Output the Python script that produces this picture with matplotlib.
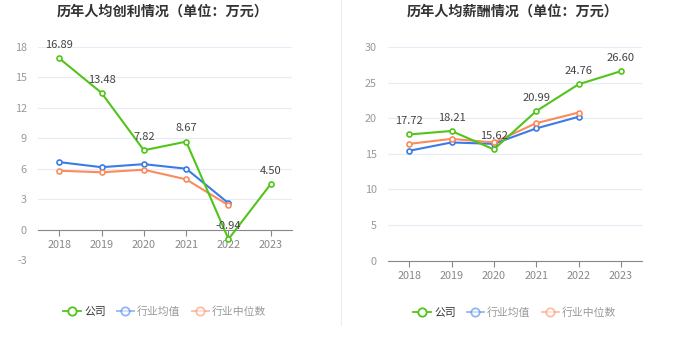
import matplotlib.pyplot as plt
from matplotlib.lines import Line2D

plt.rcParams['font.family'] = ['Noto Sans CJK SC', 'DejaVu Sans']
plt.rcParams['axes.unicode_minus'] = False

years = ['2018', '2019', '2020', '2021', '2022', '2023']

# 人均创利（万元）
profit_company = [16.89, 13.48, 7.82, 8.67, -0.94, 4.50]
profit_avg = [6.65, 6.15, 6.45, 6.0, 2.6]
profit_median = [5.8, 5.65, 5.9, 4.95, 2.4]

# 人均薪酬（万元）
salary_company = [17.72, 18.21, 15.62, 20.99, 24.76, 26.60]
salary_avg = [15.43, 16.6, 16.4, 18.57, 20.2]
salary_median = [16.4, 17.1, 16.6, 19.3, 20.8]

c_green = '#52c41a'
c_blue = '#3b7be8'
c_orange = '#fb8a5c'

fig = plt.figure(figsize=(6.8, 3.49), dpi=100)


def draw_panel(ax, title, company, avg, median, ylim, yticks):
    x = list(range(len(years)))
    ax.plot(x[:len(avg)], avg, color=c_blue, lw=1.5, marker='o', ms=3.6,
            mfc='white', mew=1.2, zorder=3)
    ax.plot(x[:len(median)], median, color=c_orange, lw=1.5, marker='o', ms=3.6,
            mfc='white', mew=1.2, zorder=3)
    ax.plot(x, company, color=c_green, lw=1.5, marker='o', ms=3.6,
            mfc='white', mew=1.2, zorder=4)
    for xi, v in zip(x, company):
        ax.annotate(f'{v:.2f}', (xi, v), xytext=(0, 6), textcoords='offset points',
                    ha='center', va='bottom', fontsize=8, color='#444444', zorder=5)
    ax.set_xlim(-0.5, len(years) - 0.5)
    ax.set_ylim(*ylim)
    ax.set_yticks(yticks)
    ax.set_xticks(x)
    ax.set_xticklabels(years)
    ax.grid(axis='y', color='#e6ebf5', lw=0.8)
    ax.set_axisbelow(True)
    for s in ['top', 'right', 'left']:
        ax.spines[s].set_visible(False)
    ax.spines['bottom'].set_position(('data', 0))
    ax.spines['bottom'].set_color('#888888')
    ax.tick_params(axis='y', length=0, labelsize=7.8, labelcolor='#999999', pad=8)
    ax.tick_params(axis='x', length=4, color='#888888', labelsize=7.8,
                   labelcolor='#888888')
    # 年份标签放在绘图区底部
    for lab in ax.get_xticklabels():
        lab.set_y(0)

    pos = ax.get_position()
    fig.text((pos.x0 + pos.x1) / 2 - 0.003, 1 - 12 / 349, title, ha='center',
             va='center', fontsize=10.2, fontweight='bold', color='#333333')

    handles = [
        Line2D([], [], color=c_green, marker='o', mfc='white', ms=6, mew=1.3, lw=1.3),
        Line2D([], [], color=c_blue, marker='o', mfc='white', ms=6, mew=1.3, lw=1.3, alpha=0.55),
        Line2D([], [], color=c_orange, marker='o', mfc='white', ms=6, mew=1.3, lw=1.3, alpha=0.55),
    ]
    leg = ax.legend(handles, ['公司', '行业均值', '行业中位数'], loc='upper center',
                    bbox_to_anchor=(0.5, -0.17), ncol=3, frameon=False,
                    fontsize=7.8, handlelength=1.6, handletextpad=0.3,
                    columnspacing=1.0)
    for i, t in enumerate(leg.get_texts()):
        t.set_color('#333333' if i == 0 else '#999999')


ax1 = fig.add_axes([38 / 680, 1 - 260 / 349, 254 / 680, 213 / 349])
draw_panel(ax1, '历年人均创利情况（单位：万元）', profit_company, profit_avg,
           profit_median, (-3, 18), [-3, 0, 3, 6, 9, 12, 15, 18])

ax2 = fig.add_axes([388 / 680, 1 - 260.7 / 349, 254 / 680, 213.7 / 349])
draw_panel(ax2, '历年人均薪酬情况（单位：万元）', salary_company, salary_avg,
           salary_median, (0, 30), [0, 5, 10, 15, 20, 25, 30])

# 两图之间的分隔线
fig.add_artist(Line2D([341 / 680, 341 / 680], [1 - 325 / 349, 1.0],
                      color='#eeeeee', lw=0.8))

fig.savefig('out.png', dpi=100)
